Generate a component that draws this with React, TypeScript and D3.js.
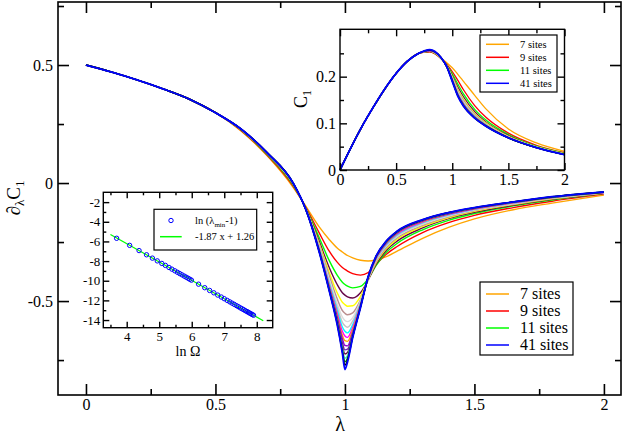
import * as d3 from 'd3'
import React, { useRef, useEffect } from 'react'

// system sizes and xmgrace-like colours
const sizes = [7, 9, 11, 13, 15, 17, 19, 21, 23, 25, 27, 29, 31, 33, 35, 37, 39, 41]
const colors = [
  '#ffa500', '#ff0000', '#00ff00', '#670748', '#ffff00', '#bc8f8f', '#dcdcdc', '#c4c4c4', '#00ffff',
  '#ff00ff', '#ffa500', '#9400d3', '#7221bc', '#670748', '#40e0d0', '#008b00', '#000000', '#0000ff',
]
const legendSizes = [7, 9, 11, 41]

// main panel: d(lambda) C1, shared branch for small lambda
const lamLeft = [0, 0.1, 0.2, 0.3, 0.4, 0.5]
const derivLeft = [0.5, 0.47, 0.436, 0.398, 0.355, 0.298]
const lamGrid = [0.6, 0.7, 0.8, 0.85, 0.9, 0.94, 0.97, 0.99, 1.0, 1.01, 1.03, 1.06, 1.09, 1.12, 1.16, 1.2, 1.3, 1.4, 1.5, 1.65, 1.8, 2.0]
const d7 = [0.22, 0.115, -0.018, -0.1, -0.185, -0.24, -0.275, -0.292, -0.3, -0.307, -0.317, -0.327, -0.33, -0.326, -0.312, -0.29, -0.234, -0.188, -0.152, -0.113, -0.085, -0.051]
const d9 = [0.222, 0.118, -0.013, -0.105, -0.21, -0.29, -0.335, -0.358, -0.366, -0.373, -0.384, -0.39, -0.379, -0.345, -0.302, -0.27, -0.21, -0.168, -0.137, -0.104, -0.077, -0.046]
const d11 = [0.224, 0.121, -0.009, -0.108, -0.23, -0.33, -0.39, -0.42, -0.43, -0.437, -0.444, -0.438, -0.405, -0.35, -0.293, -0.257, -0.198, -0.158, -0.129, -0.097, -0.072, -0.044]
const d13 = [0.225, 0.123, -0.006, -0.11, -0.245, -0.36, -0.43, -0.465, -0.475, -0.482, -0.487, -0.465, -0.41, -0.345, -0.285, -0.247, -0.19, -0.151, -0.124, -0.094, -0.069, -0.043]
const d15 = [0.226, 0.124, -0.004, -0.111, -0.255, -0.38, -0.465, -0.505, -0.515, -0.522, -0.52, -0.48, -0.408, -0.338, -0.278, -0.239, -0.184, -0.147, -0.12, -0.091, -0.067, -0.042]
const d17 = [0.227, 0.125, -0.003, -0.112, -0.262, -0.395, -0.49, -0.54, -0.552, -0.558, -0.55, -0.495, -0.407, -0.333, -0.272, -0.233, -0.179, -0.143, -0.117, -0.089, -0.065, -0.041]
const d19 = [0.227, 0.126, -0.002, -0.113, -0.267, -0.41, -0.51, -0.568, -0.582, -0.587, -0.57, -0.5, -0.406, -0.329, -0.267, -0.228, -0.175, -0.14, -0.115, -0.088, -0.064, -0.041]
const d21 = [0.227, 0.126, -0.002, -0.113, -0.271, -0.42, -0.525, -0.59, -0.605, -0.611, -0.585, -0.505, -0.405, -0.326, -0.263, -0.224, -0.171, -0.137, -0.113, -0.086, -0.063, -0.04]
const d23 = [0.227, 0.126, -0.001, -0.114, -0.274, -0.428, -0.538, -0.61, -0.628, -0.635, -0.6, -0.51, -0.404, -0.323, -0.259, -0.22, -0.168, -0.135, -0.111, -0.085, -0.062, -0.04]
const d25 = [0.228, 0.127, -0.001, -0.114, -0.277, -0.435, -0.55, -0.628, -0.648, -0.654, -0.612, -0.514, -0.402, -0.32, -0.256, -0.217, -0.165, -0.133, -0.11, -0.084, -0.061, -0.04]
const d27 = [0.228, 0.127, -0.001, -0.114, -0.28, -0.44, -0.56, -0.645, -0.668, -0.671, -0.622, -0.517, -0.401, -0.318, -0.254, -0.214, -0.163, -0.131, -0.109, -0.083, -0.061, -0.039]
const d29 = [0.228, 0.127, -0.001, -0.114, -0.282, -0.445, -0.568, -0.66, -0.688, -0.69, -0.632, -0.52, -0.4, -0.316, -0.252, -0.212, -0.161, -0.13, -0.108, -0.082, -0.06, -0.039]
const d31 = [0.228, 0.127, -0.001, -0.114, -0.284, -0.449, -0.576, -0.675, -0.707, -0.704, -0.64, -0.522, -0.399, -0.315, -0.25, -0.21, -0.159, -0.129, -0.107, -0.082, -0.06, -0.039]
const d33 = [0.228, 0.128, 0, -0.115, -0.285, -0.452, -0.582, -0.69, -0.724, -0.718, -0.645, -0.523, -0.398, -0.313, -0.249, -0.209, -0.158, -0.128, -0.106, -0.081, -0.059, -0.039]
const d35 = [0.228, 0.128, 0, -0.115, -0.286, -0.454, -0.588, -0.7, -0.742, -0.731, -0.648, -0.524, -0.397, -0.312, -0.248, -0.208, -0.157, -0.127, -0.105, -0.081, -0.059, -0.038]
const d37 = [0.228, 0.128, 0, -0.115, -0.287, -0.456, -0.592, -0.708, -0.757, -0.741, -0.65, -0.525, -0.397, -0.311, -0.247, -0.207, -0.156, -0.126, -0.105, -0.08, -0.059, -0.038]
const d39 = [0.228, 0.128, 0, -0.115, -0.288, -0.458, -0.596, -0.714, -0.772, -0.75, -0.652, -0.526, -0.396, -0.311, -0.246, -0.206, -0.156, -0.125, -0.104, -0.08, -0.058, -0.038]
const d41 = [0.228, 0.128, 0, -0.115, -0.29, -0.46, -0.6, -0.72, -0.79, -0.758, -0.655, -0.528, -0.395, -0.31, -0.245, -0.205, -0.155, -0.125, -0.104, -0.08, -0.058, -0.037]
const derivSeries = [d7, d9, d11, d13, d15, d17, d19, d21, d23, d25, d27, d29, d31, d33, d35, d37, d39, d41]

// top right inset: C1
const c1Lam = [0, 0.1, 0.2, 0.3, 0.4, 0.5, 0.6, 0.7]
const c1Rise = [0, 0.049, 0.095, 0.136, 0.174, 0.207, 0.233, 0.25]
const c1Grid = [0.8, 0.9, 0.95, 1.0, 1.05, 1.1, 1.2, 1.3, 1.5, 1.75, 2.0]
const c7 = [0.253, 0.24, 0.23, 0.219, 0.205, 0.19, 0.16, 0.131, 0.088, 0.058, 0.04]
const c9 = [0.253, 0.239, 0.227, 0.211, 0.192, 0.172, 0.138, 0.113, 0.079, 0.053, 0.037]
const c11 = [0.254, 0.239, 0.225, 0.206, 0.184, 0.163, 0.13, 0.107, 0.076, 0.051, 0.036]
const c13 = [0.254, 0.24, 0.224, 0.202, 0.178, 0.157, 0.125, 0.103, 0.074, 0.05, 0.035]
const c15 = [0.255, 0.24, 0.223, 0.2, 0.173, 0.152, 0.121, 0.101, 0.072, 0.05, 0.035]
const c17 = [0.255, 0.24, 0.223, 0.198, 0.17, 0.149, 0.119, 0.099, 0.071, 0.049, 0.034]
const c19 = [0.255, 0.24, 0.223, 0.197, 0.167, 0.146, 0.117, 0.098, 0.071, 0.049, 0.034]
const c21 = [0.256, 0.241, 0.223, 0.196, 0.165, 0.144, 0.116, 0.097, 0.07, 0.049, 0.034]
const c23 = [0.256, 0.241, 0.222, 0.195, 0.164, 0.143, 0.115, 0.097, 0.07, 0.049, 0.034]
const c25 = [0.256, 0.241, 0.222, 0.194, 0.163, 0.142, 0.114, 0.096, 0.07, 0.048, 0.034]
const c27 = [0.256, 0.241, 0.222, 0.194, 0.162, 0.141, 0.114, 0.096, 0.07, 0.048, 0.034]
const c29 = [0.256, 0.241, 0.222, 0.193, 0.161, 0.14, 0.113, 0.095, 0.069, 0.048, 0.033]
const c31 = [0.256, 0.241, 0.222, 0.193, 0.161, 0.139, 0.113, 0.095, 0.069, 0.048, 0.033]
const c33 = [0.257, 0.241, 0.222, 0.192, 0.16, 0.139, 0.112, 0.095, 0.069, 0.048, 0.033]
const c35 = [0.257, 0.241, 0.222, 0.192, 0.16, 0.138, 0.112, 0.094, 0.069, 0.048, 0.033]
const c37 = [0.257, 0.241, 0.222, 0.191, 0.159, 0.138, 0.112, 0.094, 0.069, 0.048, 0.033]
const c39 = [0.257, 0.241, 0.222, 0.191, 0.159, 0.137, 0.111, 0.094, 0.069, 0.048, 0.033]
const c41 = [0.258, 0.241, 0.222, 0.19, 0.158, 0.137, 0.111, 0.094, 0.069, 0.048, 0.033]
const c1Series = [c7, c9, c11, c13, c15, c17, c19, c21, c23, c25, c27, c29, c31, c33, c35, c37, c39, c41]

// bottom left inset: ln(lambda_min - 1) vs ln Omega
const lnOmega = [3.69, 4.09, 4.38, 4.61, 4.79, 4.94, 5.08, 5.19, 5.3, 5.39, 5.48, 5.56, 5.63, 5.7, 5.77, 5.83, 5.89, 5.94, 5.99, 6.21, 6.4, 6.55, 6.68, 6.8, 6.91, 7.0, 7.09, 7.17, 7.24, 7.31, 7.38, 7.44, 7.5, 7.55, 7.6, 7.65, 7.7, 7.74, 7.78, 7.82, 7.86, 7.9]
const lnLamMin = [-5.68, -6.4, -6.93, -7.36, -7.7, -7.98, -8.24, -8.44, -8.65, -8.82, -8.99, -9.14, -9.27, -9.4, -9.53, -9.64, -9.75, -9.85, -9.94, -10.35, -10.71, -10.99, -11.23, -11.46, -11.66, -11.83, -12.0, -12.15, -12.28, -12.41, -12.54, -12.65, -12.77, -12.86, -12.95, -13.05, -13.14, -13.21, -13.29, -13.36, -13.44, -13.51]
const fitSlope = -1.87
const fitIntercept = 1.26
const fitRange = [3.5, 8.2]

const font = 'Liberation Serif'

const draw = (el: SVGSVGElement) => {
  const svg = d3.select(el)
  svg.selectAll('*').remove()
  svg.append('rect').attr('width', 623).attr('height', 434).attr('fill', '#fff')

  const fmt = (d: any) => String(d)
  const none = () => ''

  // ticks on all four sides, pointing inwards, plus the frame
  const addAxes = (x: any, y: any, o: any) => {
    const [xa, xb] = x.range()
    const [ya, yb] = y.range()
    const g = svg.append('g')
    const put = (gen: any, tx: number, ty: number) =>
      g.append('g').attr('transform', `translate(${tx},${ty})`).call(gen)
    put(d3.axisBottom(x).tickValues(o.xMajor).tickSize(-o.big).tickPadding(o.padX).tickFormat(fmt), 0, ya)
    put(d3.axisBottom(x).tickValues(o.xMinor).tickSize(-o.small).tickFormat(none), 0, ya)
    put(d3.axisTop(x).tickValues(o.xMajor).tickSize(-o.big).tickFormat(none), 0, yb)
    put(d3.axisTop(x).tickValues(o.xMinor).tickSize(-o.small).tickFormat(none), 0, yb)
    put(d3.axisLeft(y).tickValues(o.yMajor).tickSize(-o.big).tickPadding(o.padY).tickFormat(fmt), xa, 0)
    put(d3.axisLeft(y).tickValues(o.yMinor).tickSize(-o.small).tickFormat(none), xa, 0)
    put(d3.axisRight(y).tickValues(o.yMajor).tickSize(-o.big).tickFormat(none), xb, 0)
    put(d3.axisRight(y).tickValues(o.yMinor).tickSize(-o.small).tickFormat(none), xb, 0)
    g.selectAll('.domain').remove()
    g.selectAll('g').attr('font-family', font).attr('font-size', o.fs)
    g.selectAll('.tick line').attr('stroke', '#000').attr('stroke-width', o.sw)
    g.selectAll('.tick text').attr('font-family', font).attr('font-size', o.fs).attr('fill', '#000')
    g.append('rect')
      .attr('x', xa).attr('y', yb).attr('width', xb - xa).attr('height', ya - yb)
      .attr('fill', 'none').attr('stroke', '#000').attr('stroke-width', o.sw)
  }

  const label = (tx: number, ty: number, size: number, rot = false) =>
    svg.append('text')
      .attr('transform', rot ? `translate(${tx},${ty}) rotate(-90)` : `translate(${tx},${ty})`)
      .attr('text-anchor', 'middle').attr('font-family', font).attr('font-size', size)

  const addLegend = (o: any) => {
    const g = svg.append('g')
    g.append('rect').attr('x', o.x).attr('y', o.y).attr('width', o.w).attr('height', o.h)
      .attr('fill', '#fff').attr('stroke', '#000').attr('stroke-width', 1.2)
    legendSizes.forEach((n, i) => {
      const cy = o.y0 + i * o.step
      g.append('line').attr('x1', o.lx1).attr('x2', o.lx2).attr('y1', cy).attr('y2', cy)
        .attr('stroke', colors[sizes.indexOf(n)]).attr('stroke-width', 1.5)
      g.append('text').attr('x', o.tx).attr('y', cy + o.fs * 0.33).attr('font-family', font)
        .attr('font-size', o.fs).text(`${n} sites`)
    })
  }

  // ---------- main panel ----------
  const x = d3.scaleLinear().domain([-0.108, 2.066]).range([58, 621])
  const y = d3.scaleLinear().domain([-0.898, 0.767]).range([395, 2])
  const line = d3.line<[number, number]>().x((d) => x(d[0])).y((d) => y(d[1])).curve(d3.curveMonotoneX)

  derivSeries.forEach((vals, k) => {
    const pts: [number, number][] = [
      ...lamLeft.map((l, i) => [l, derivLeft[i]] as [number, number]),
      ...lamGrid.map((l, i) => [l, vals[i]] as [number, number]),
    ]
    svg.append('path').attr('d', line(pts)).attr('fill', 'none').attr('stroke', colors[k])
      .attr('stroke-width', k === 17 ? 1.8 : 1.4)
  })

  addAxes(x, y, {
    xMajor: [0, 0.5, 1, 1.5, 2], xMinor: [0.25, 0.75, 1.25, 1.75],
    yMajor: [-0.5, 0, 0.5], yMinor: [-0.75, -0.25, 0.25, 0.75],
    big: 11, small: 6, padX: 4, padY: 5, fs: 16, sw: 1.6,
  })

  label(340, 431, 20).text('λ')
  const yl = label(20, 198, 19, true)
  yl.append('tspan').text('∂')
  yl.append('tspan').attr('font-size', 13).attr('dy', 4).text('λ')
  yl.append('tspan').attr('dy', -4).text('C')
  yl.append('tspan').attr('font-size', 13).attr('dy', 4).text('1')

  addLegend({ x: 480, y: 282, w: 93, h: 73, y0: 294, step: 17, lx1: 486, lx2: 509, tx: 520, fs: 16 })

  // ---------- top right inset ----------
  const xi = d3.scaleLinear().domain([0, 2]).range([340, 564.5])
  const yi = d3.scaleLinear().domain([0, 0.3015]).range([170, 29.3])
  svg.append('rect').attr('x', 340).attr('y', 29.3).attr('width', 224.5).attr('height', 140.7).attr('fill', '#fff')
  const lineI = d3.line<[number, number]>().x((d) => xi(d[0])).y((d) => yi(d[1])).curve(d3.curveMonotoneX)
  c1Series.forEach((vals, k) => {
    const pts: [number, number][] = [
      ...c1Lam.map((l, i) => [l, c1Rise[i]] as [number, number]),
      ...c1Grid.map((l, i) => [l, vals[i]] as [number, number]),
    ]
    svg.append('path').attr('d', lineI(pts)).attr('fill', 'none').attr('stroke', colors[k])
      .attr('stroke-width', k === 17 ? 1.8 : 1.3)
  })
  addAxes(xi, yi, {
    xMajor: [0, 0.5, 1, 1.5, 2], xMinor: [0.25, 0.75, 1.25, 1.75],
    yMajor: [0, 0.1, 0.2], yMinor: [0.05, 0.15, 0.25],
    big: 7, small: 4, padX: 4, padY: 4, fs: 16, sw: 1.4,
  })
  const cl = label(307, 99, 18, true)
  cl.append('tspan').text('C')
  cl.append('tspan').attr('font-size', 12).attr('dy', 4).text('1')
  addLegend({ x: 480, y: 35, w: 77, h: 57, y0: 44.3, step: 13, lx1: 486, lx2: 509, tx: 520, fs: 10.5 })

  // ---------- bottom left inset ----------
  const xs = d3.scaleLinear().domain([3.28, 8.49]).range([103.3, 272.7])
  const ys = d3.scaleLinear().domain([-14.78, -1.0]).range([327.7, 192.3])
  svg.append('rect').attr('x', 103.3).attr('y', 192.3).attr('width', 169.4).attr('height', 135.4).attr('fill', '#fff')
  svg.append('line')
    .attr('x1', xs(fitRange[0])).attr('y1', ys(fitSlope * fitRange[0] + fitIntercept))
    .attr('x2', xs(fitRange[1])).attr('y2', ys(fitSlope * fitRange[1] + fitIntercept))
    .attr('stroke', '#00ff00').attr('stroke-width', 1.2)
  svg.append('g').selectAll('circle').data(lnOmega).enter().append('circle')
    .attr('cx', (d) => xs(d)).attr('cy', (d, i) => ys(lnLamMin[i])).attr('r', 2.2)
    .attr('fill', 'none').attr('stroke', '#0000ff').attr('stroke-width', 1)
  addAxes(xs, ys, {
    xMajor: [4, 5, 6, 7, 8], xMinor: [3.5, 4.5, 5.5, 6.5, 7.5],
    yMajor: [-14, -12, -10, -8, -6, -4, -2], yMinor: [-13, -11, -9, -7, -5, -3],
    big: 6, small: 3, padX: 4, padY: 3, fs: 13, sw: 1.4,
  })
  label(188, 356, 14).text('ln Ω')

  const lg = svg.append('g')
  lg.append('rect').attr('x', 154).attr('y', 209.3).attr('width', 102.7).attr('height', 40.7)
    .attr('fill', '#fff').attr('stroke', '#000').attr('stroke-width', 1.2)
  lg.append('circle').attr('cx', 171).attr('cy', 220.5).attr('r', 2.2)
    .attr('fill', 'none').attr('stroke', '#0000ff').attr('stroke-width', 1)
  const t1 = lg.append('text').attr('x', 195).attr('y', 224).attr('font-family', font).attr('font-size', 10.5)
  t1.append('tspan').text('ln (λ')
  t1.append('tspan').attr('font-size', 7).attr('dy', 3).text('min')
  t1.append('tspan').attr('dy', -3).text('-1)')
  lg.append('line').attr('x1', 160).attr('x2', 181.7).attr('y1', 236.7).attr('y2', 236.7)
    .attr('stroke', '#00ff00').attr('stroke-width', 1.5)
  lg.append('text').attr('x', 195).attr('y', 240.3).attr('font-family', font).attr('font-size', 10.5)
    .text(`${fitSlope} x + ${fitIntercept}`)
}

export default function App() {
  const ref = useRef<SVGSVGElement>(null)

  useEffect(() => {
    if (ref.current) draw(ref.current)
  }, [])

  return <svg ref={ref} width={623} height={434} style={{ position: 'absolute', left: 0, top: 0 }} />
}
